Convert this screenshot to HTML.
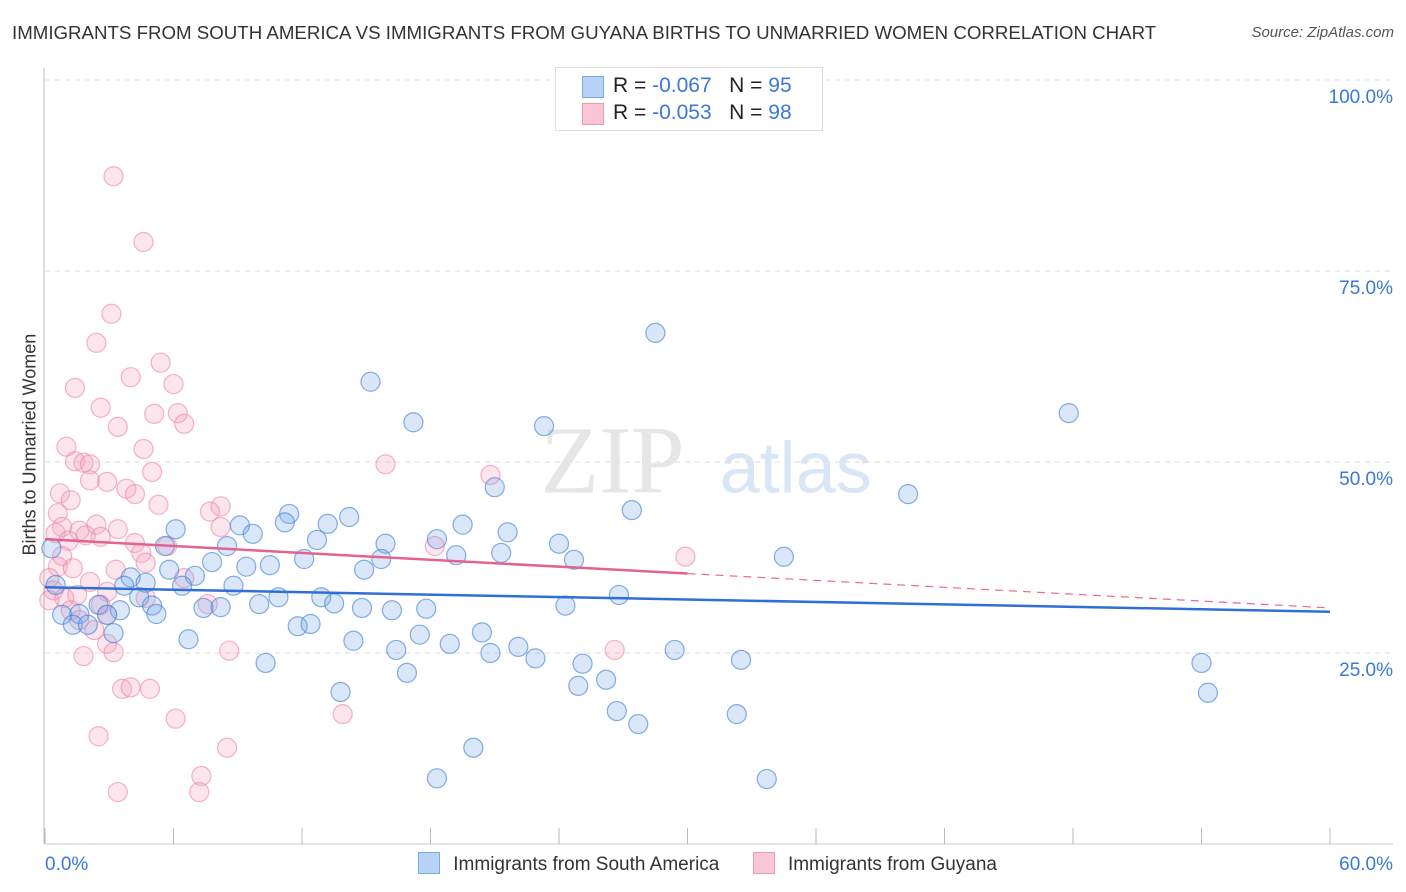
<!DOCTYPE html>
<html><head><meta charset="utf-8"><style>
body{margin:0;background:#fff;font-family:"Liberation Sans",sans-serif;}
#wrap{position:relative;width:1406px;height:892px;overflow:hidden;}
.t{position:absolute;white-space:nowrap;}
</style></head><body>
<div id="wrap">
<div class="t" style="left:12px;top:22px;font-size:18.7px;color:#333;">IMMIGRANTS FROM SOUTH AMERICA VS IMMIGRANTS FROM GUYANA BIRTHS TO UNMARRIED WOMEN CORRELATION CHART</div>
<div class="t" style="right:12px;top:24px;font-size:15px;color:#555;font-style:italic;">Source: ZipAtlas.com</div>
<div class="t" style="left:-70px;top:445px;font-size:18px;color:#333;transform:rotate(-90deg);width:200px;text-align:center;">Births to Unmarried Women</div>
<svg id="plot" width="1406" height="892" style="position:absolute;left:0;top:0"></svg>
<div style="position:absolute;left:555px;top:67px;width:266px;height:62px;border:1px solid #ddd;background:#fff;font-size:21px;">
 <div style="position:absolute;left:26px;top:8px;width:20px;height:20px;background:#b8d3f5;border:1px solid #7aaae5;"></div>
 <div class="t" style="left:57px;top:6px;color:#222;">R = <span style="color:#3a78d8">-0.067</span>&nbsp;&nbsp;&nbsp;N = <span style="color:#3a78d8">95</span></div>
 <div style="position:absolute;left:26px;top:35px;width:20px;height:20px;background:#f9c6d6;border:1px solid #ee9ab4;"></div>
 <div class="t" style="left:57px;top:33px;color:#222;">R = <span style="color:#3a78d8">-0.053</span>&nbsp;&nbsp;&nbsp;N = <span style="color:#3a78d8">98</span></div>
</div>
<div style="position:absolute;left:418px;top:852px;font-size:19px;color:#333;">
 <span style="display:inline-block;width:20px;height:20px;background:#b8d3f5;border:1px solid #7aaae5;vertical-align:-4px;"></span>
 <span style="margin-left:8px;">Immigrants from South America</span>
 <span style="display:inline-block;width:20px;height:20px;background:#f9c6d6;border:1px solid #ee9ab4;vertical-align:-4px;margin-left:28px;"></span>
 <span style="margin-left:8px;">Immigrants from Guyana</span>
</div>
</div>
<script>
const xTickLabels=["0.0%","60.0%"];
const yTickValues=[25,50,75,100];
const yTickLabels=["25.0%","50.0%","75.0%","100.0%"];
const blueX=[28.5,15.2,17.2,23.3,47.8,21.0,40.3,27.4,11.4,14.2,9.1,11.2,13.2,19.5,6.1,21.6,18.3,12.7,9.7,15.9,24.0,5.6,8.5,19.2,21.3,12.1,15.7,24.7,34.5,7.8,10.5,9.4,5.8,14.9,7.0,4.0,4.7,3.7,8.8,6.4,4.4,10.9,12.9,26.8,5.0,10.0,13.5,2.5,7.4,8.2,14.8,16.2,17.8,24.3,3.5,5.2,2.9,0.8,1.6,1.3,2.0,11.8,12.4,3.2,17.5,20.4,6.7,14.4,18.9,22.1,16.4,20.8,22.9,29.4,32.5,10.3,25.1,54.0,16.9,26.2,24.9,13.8,54.3,26.7,32.3,27.7,20.0,18.3,33.7,0.3,0.5];
const blueY=[66.9,60.5,55.2,54.7,56.4,46.7,45.8,43.7,43.2,42.8,41.7,42.1,41.9,41.8,41.2,40.8,39.9,39.8,40.6,39.3,39.3,39.0,39.0,37.8,38.1,37.3,37.3,37.2,37.6,36.9,36.5,36.3,35.9,35.9,35.1,34.9,34.2,33.8,33.8,33.8,32.3,32.3,32.3,32.6,31.2,31.4,31.5,31.3,30.9,31.0,30.9,30.6,30.8,31.2,30.6,30.1,30.0,30.0,30.1,28.7,28.7,28.5,28.8,27.6,27.4,27.7,26.8,26.6,26.2,25.8,25.4,25.0,24.3,25.4,24.1,23.7,23.6,23.7,22.4,21.5,20.7,19.9,19.8,17.4,17.0,15.7,12.6,8.6,8.5,38.7,33.9];
const pinkX=[3.2,4.6,3.1,2.4,5.4,4.0,6.0,1.4,2.6,5.1,6.2,3.4,6.5,1.0,4.6,1.4,1.8,2.1,15.9,5.0,20.8,2.1,2.9,0.7,3.8,4.2,1.2,5.3,8.2,7.7,0.6,8.2,2.4,0.8,1.6,3.4,1.9,2.6,0.5,1.1,4.2,5.7,18.2,0.8,4.5,29.9,0.6,1.3,3.3,4.7,6.5,0.2,0.4,2.1,1.5,0.9,0.2,2.9,4.7,7.6,1.2,2.6,1.6,2.9,2.3,2.9,3.2,8.6,26.6,1.8,3.6,4.0,4.9,6.1,13.9,2.5,8.5,7.3,3.4,7.2];
const pinkY=[87.4,78.8,69.4,65.6,63.0,61.1,60.2,59.7,57.1,56.3,56.4,54.6,55.0,52.0,51.7,50.1,49.9,49.7,49.7,48.7,48.3,47.6,47.4,45.9,46.5,45.8,45.0,44.4,44.2,43.5,43.3,41.5,41.8,41.5,41.0,41.2,40.4,40.2,40.7,39.7,39.4,39.0,39.0,37.7,38.1,37.6,36.3,36.1,35.9,36.8,34.8,34.8,33.2,34.3,32.6,32.2,31.9,33.0,32.2,31.4,30.6,31.3,29.3,30.0,28.0,26.2,25.1,25.3,25.4,24.6,20.3,20.5,20.3,16.4,17.0,14.1,12.6,8.9,6.8,6.8];
const blueTrend=[33.6,30.4];
const pinkTrend=[39.9,30.9];
const pinkSolidEnd=30;

const X0=45,X1=1330,Y0=844,YS=7.64;
const sx=v=>X0+v/60*(X1-X0);
const sy=v=>Y0-v*YS;
const NS="http://www.w3.org/2000/svg";
const svg=document.getElementById('plot');
function mk(tag,attrs){const e=document.createElementNS(NS,tag);for(const k in attrs)e.setAttribute(k,attrs[k]);svg.appendChild(e);return e;}

let w1=mk('text',{x:sx(26.5),y:sy(46),'font-size':96,'font-family':'Liberation Serif,serif',fill:'#e6e6e6','text-anchor':'middle'});


w1.textContent='ZIP';
let w2=mk('text',{x:sx(31.5),y:sy(46),'font-size':72,'font-family':'Liberation Sans,sans-serif',fill:'#d9e6f6'});


w2.textContent='atlas';

yTickValues.forEach((v,i)=>{
  const g=mk('line',{x1:X0,x2:1393,y1:sy(v),y2:sy(v),stroke:'#ddd','stroke-dasharray':'5,5'});
  
  
  const t=mk('text',{x:1393,y:sy(v)+23,'font-size':19,fill:'#3a78d8','text-anchor':'end','font-family':'Liberation Sans,sans-serif'});
  
  
  t.textContent=yTickLabels[i];
});
let ax=mk('line',{x1:X0-1,x2:X0-1,y1:68,y2:Y0,stroke:'#bbb'});


let bx=mk('line',{x1:X0,x2:1393,y1:Y0,y2:Y0,stroke:'#ccc'});


for(let i=0;i<=10;i++){
  const tk=mk('line',{x1:sx(i*6),x2:sx(i*6),y1:Y0-16,y2:Y0,stroke:'#bbb'});
  
  
}
[[0,'start'],[60,'end']].forEach((p,i)=>{
  const t=mk('text',{x:i?1393:45,y:870,'font-size':19,fill:'#3a78d8','text-anchor':p[1],'font-family':'Liberation Sans,sans-serif'});
  
  
  t.textContent=xTickLabels[i];
});

function dots(xs,ys,fill,stroke,name){
  xs.forEach((x,i)=>{
    const c=mk('circle',{cx:sx(x),cy:sy(ys[i]),r:9.5,fill:fill,stroke:stroke,'stroke-width':1.2});
    
    
  });
}
dots(pinkX,pinkY,'rgba(244,160,188,0.28)','rgba(236,130,165,0.6)','point-guyana');
dots(blueX,blueY,'rgba(120,170,235,0.28)','rgba(70,130,215,0.65)','point-south-america');

const pl=v=>pinkTrend[0]+(pinkTrend[1]-pinkTrend[0])*v/60;
let pd=mk('line',{x1:sx(pinkSolidEnd),y1:sy(pl(pinkSolidEnd)),x2:sx(60),y2:sy(pinkTrend[1]),stroke:'#e66b96','stroke-width':1.2,'stroke-dasharray':'8,6'});


let ps=mk('line',{x1:sx(0),y1:sy(pinkTrend[0]),x2:sx(pinkSolidEnd),y2:sy(pl(pinkSolidEnd)),stroke:'#e3638f','stroke-width':2.5});


let bl=mk('line',{x1:sx(0),y1:sy(blueTrend[0]),x2:sx(60),y2:sy(blueTrend[1]),stroke:'#2f6fd6','stroke-width':2.5});


</script>
</body></html>
